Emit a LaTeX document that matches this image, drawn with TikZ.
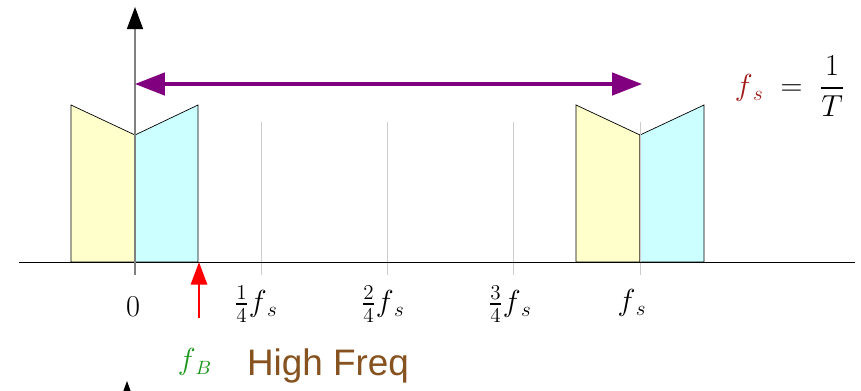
\documentclass[tikz,border=0pt]{standalone}
\usepackage{amsmath}
\usepackage{fontspec}
\newfontfamily\labelfont{Liberation Sans}
\usetikzlibrary{arrows.meta}
\definecolor{lowband}{HTML}{FFFFCC}
\definecolor{highband}{HTML}{CCFFFF}
\definecolor{spanpurple}{HTML}{800080}
\definecolor{fbgreen}{HTML}{1A961A}
\definecolor{freqbrown}{HTML}{86521F}
\definecolor{fsred}{HTML}{A01818}
\begin{document}
\begin{tikzpicture}[x=0.02cm,y=-0.02cm,font=\fontsize{18}{21}\selectfont,
  axis/.style={draw=black,thin},
  band/.style={draw=black,thin},
  tick/.style={draw=gray!40,thin},
  span/.style={{Triangle[length=0.6cm,width=0.45cm]}-{Triangle[length=0.6cm,width=0.45cm]},draw=spanpurple,line width=1.8pt},
  bandedge/.style={-{Triangle[length=0.45cm,width=0.32cm]},draw=red,line width=1.5pt}]
\useasboundingbox (0,0) rectangle (861,390);
% spectra
\draw[band,fill=lowband] (71,262)--(71,105)--(135,135)--(135,262)--cycle;
\draw[band,fill=highband] (135,262)--(135,135)--(198,105)--(198,262)--cycle;
\draw[band,fill=lowband] (576,262)--(576,105)--(640,135)--(640,262)--cycle;
\draw[band,fill=highband] (640,262)--(640,135)--(704,105)--(704,262)--cycle;
% grid ticks
\foreach \x in {261,387,513,640} \draw[tick] (\x,122)--(\x,275);
% axes
\coordinate (xl) at (19,262); \coordinate (xr) at (855,262);
\draw[axis] (xl)--(xr);
\coordinate (yb) at (135,275); \coordinate (yt) at (135,7);
\draw[-{Triangle[length=0.44cm,width=0.32cm,color=black]},draw=gray,thick] (yb)--(yt);
% sampling span
\coordinate (s0) at (135,84); \coordinate (s1) at (642,84);
\draw[span] (s0)--(s1);
% band edge marker
\coordinate (fb0) at (199,318); \coordinate (fb1) at (199,262);
\draw[bandedge] (fb0)--(fb1);
% labels
\node (zero) at (133,307) {$0$};
\node (q1) at (256,304) {$\frac{1}{4}f_{\,s}$};
\node (q2) at (383,304) {$\frac{2}{4}f_{\,s}$};
\node (q3) at (510,304) {$\frac{3}{4}f_{\,s}$};
\node (q4) at (632,303) {$f_{\,s}$};
\node[text=fbgreen,font=\fontsize{16}{19}\selectfont] (fb) at (195,362) {$f_{\,B}$};
\node[text=freqbrown,font=\labelfont\fontsize{21}{24}\selectfont] (hf) at (328,366) {High Freq};
\node (fs) at (790,86) {$\textcolor{fsred}{f_{\,s}}\;=\;\dfrac{1}{T}$};
% cut-off tip of a lower axis
\fill (123,392)--(127,381)--(131,392)--cycle;
\end{tikzpicture}
\end{document}
